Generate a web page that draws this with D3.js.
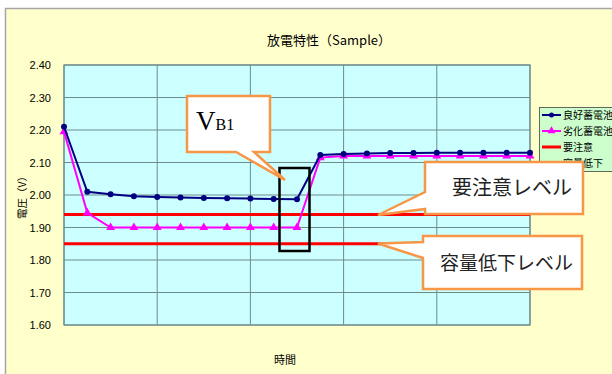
<!DOCTYPE html>
<html>
<head>
<meta charset="utf-8">
<script src="https://cdn.jsdelivr.net/npm/d3@7"></script>
<style>
  html, body { margin: 0; padding: 0; background: #ffffff; }
  svg { display: block; }
</style>
</head>
<body>
<svg id="chart" width="612" height="374"></svg>
<script>
// Discharge characteristics: cell voltage over time, good vs. degraded battery
const timeSteps = d3.range(21);
const goodCell = [2.21, 2.01, 2.002, 1.996, 1.994, 1.992, 1.991, 1.990, 1.989, 1.988, 1.987,
                  2.123, 2.126, 2.128, 2.129, 2.129, 2.130, 2.130, 2.130, 2.130, 2.130];
const degradedCell = [2.195, 1.945, 1.90, 1.90, 1.90, 1.90, 1.90, 1.90, 1.90, 1.90, 1.90,
                      2.115, 2.12, 2.12, 2.12, 2.12, 2.12, 2.12, 2.12, 2.12, 2.12];
const cautionLevel = 1.94;
const lowCapacityLevel = 1.85;
const yTicks = [1.6, 1.7, 1.8, 1.9, 2.0, 2.1, 2.2, 2.3, 2.4];
const seriesNames = ["良好蓄電池", "劣化蓄電池", "要注意", "容量低下"];

const svg = d3.select("#chart");
const sans = "'Noto Sans CJK JP', 'Noto Sans', sans-serif";
const narrow = "'Liberation Sans Narrow', 'Arial Narrow', 'Liberation Sans', sans-serif";

// chart area
svg.append("rect").attr("x", 5.5).attr("y", 8.5).attr("width", 620).attr("height", 380)
  .attr("fill", "#ffffcc").attr("stroke", "#a6a6a6").attr("stroke-width", 1.5);

const plot = { left: 64, right: 530, top: 65, bottom: 325 };
const x = d3.scalePoint().domain(timeSteps).range([plot.left, plot.right]);
const y = d3.scaleLinear().domain([1.6, 2.4]).range([plot.bottom, plot.top]);

svg.append("rect").attr("x", plot.left).attr("y", plot.top)
  .attr("width", plot.right - plot.left).attr("height", plot.bottom - plot.top)
  .attr("fill", "#ccffff");

// gridlines
svg.append("g").selectAll("line").data(yTicks).join("line")
  .attr("x1", plot.left).attr("x2", plot.right)
  .attr("y1", d => y(d)).attr("y2", d => y(d))
  .attr("stroke", "#6e8c8c").attr("stroke-width", 1);
svg.append("g").selectAll("line").data(timeSteps.filter(d => d % 4 === 0)).join("line")
  .attr("x1", d => x(d)).attr("x2", d => x(d))
  .attr("y1", plot.top).attr("y2", plot.bottom)
  .attr("stroke", "#6e8c8c").attr("stroke-width", 1);
svg.append("rect").attr("x", plot.left).attr("y", plot.top)
  .attr("width", plot.right - plot.left).attr("height", plot.bottom - plot.top)
  .attr("fill", "none").attr("stroke", "#6e8c8c").attr("stroke-width", 1.2);

// y axis labels
const yAxis = svg.append("g").attr("transform", `translate(${plot.left},0)`)
  .call(d3.axisLeft(y).tickValues(yTicks).tickFormat(d3.format(".2f")).tickSize(0).tickPadding(13));
yAxis.select(".domain").remove();
yAxis.selectAll("text").attr("font-family", narrow).attr("font-size", 11).attr("fill", "#000");

// titles
svg.append("text").attr("x", 329).attr("y", 45).attr("text-anchor", "middle")
  .attr("font-family", sans).attr("font-size", 13).attr("fill", "#000").text("放電特性（Sample）");
svg.append("text").attr("transform", "translate(26,195) rotate(-90)").attr("text-anchor", "middle")
  .attr("font-family", sans).attr("font-size", 10.5).attr("fill", "#000").text("電圧（V）");
svg.append("text").attr("x", 285).attr("y", 364).attr("text-anchor", "middle")
  .attr("font-family", sans).attr("font-size", 11).attr("fill", "#000").text("時間");

// threshold levels
[cautionLevel, lowCapacityLevel].forEach(v => {
  svg.append("line").attr("x1", plot.left).attr("x2", plot.right)
    .attr("y1", y(v)).attr("y2", y(v)).attr("stroke", "#ff0000").attr("stroke-width", 3);
});

const line = d3.line().x((d, i) => x(i)).y(d => y(d));

// degraded cell
svg.append("path").datum(degradedCell).attr("d", line)
  .attr("fill", "none").attr("stroke", "#ff00ff").attr("stroke-width", 2);
svg.append("g").selectAll("path").data(degradedCell).join("path")
  .attr("transform", (d, i) => `translate(${x(i)},${y(d)})`)
  .attr("d", d3.symbol(d3.symbolTriangle, 34)).attr("fill", "#ff00ff");

// good cell
svg.append("path").datum(goodCell).attr("d", line)
  .attr("fill", "none").attr("stroke", "#000080").attr("stroke-width", 2);
svg.append("g").selectAll("circle").data(goodCell).join("circle")
  .attr("cx", (d, i) => x(i)).attr("cy", d => y(d)).attr("r", 3).attr("fill", "#000080");

// VB1 measurement window
svg.append("rect").attr("x", 279.5).attr("y", 168).attr("width", 30).attr("height", 83)
  .attr("fill", "none").attr("stroke", "#000").attr("stroke-width", 2.5);

// legend
const lg = svg.append("g");
lg.append("rect").attr("x", 539.5).attr("y", 107.5).attr("width", 90).attr("height", 64)
  .attr("fill", "#ccffcc").attr("stroke", "#444").attr("stroke-width", 0.8);
const legendColors = ["#000080", "#ff00ff", "#ff0000", "#ff0000"];
seriesNames.forEach((name, i) => {
  const cy = 115 + i * 16;
  lg.append("line").attr("x1", 542).attr("x2", 561).attr("y1", cy).attr("y2", cy)
    .attr("stroke", legendColors[i]).attr("stroke-width", i < 2 ? 2 : 3);
  if (i === 0) lg.append("circle").attr("cx", 551.5).attr("cy", cy).attr("r", 2.5).attr("fill", legendColors[i]);
  if (i === 1) lg.append("path").attr("transform", `translate(551.5,${cy})`)
    .attr("d", d3.symbol(d3.symbolTriangle, 28)).attr("fill", legendColors[i]);
  lg.append("text").attr("x", 563).attr("y", cy + 4).attr("font-family", sans)
    .attr("font-size", 10).attr("fill", "#000").text(name);
});

// callouts
const calloutStroke = "#f79646";
function callout(points, label, tx, ty, size) {
  svg.append("path").attr("d", "M" + points.map(p => p.join(",")).join("L") + "Z")
    .attr("fill", "#ffffff").attr("stroke", calloutStroke).attr("stroke-width", 2.5)
    .attr("stroke-linejoin", "miter");
}
// VB1
callout([[187, 96], [270, 96], [270, 152], [254, 152], [285, 180], [236, 152], [187, 152]]);
const vb = svg.append("text").attr("x", 196).attr("y", 130)
  .attr("font-family", "'Liberation Serif', 'DejaVu Serif', serif").attr("fill", "#000");
vb.append("tspan").attr("font-size", 27).text("V");
vb.append("tspan").attr("font-size", 16).text("B1");

// caution level
callout([[425, 162], [583, 162], [583, 214], [425, 214], [425, 209], [378, 215], [425, 192]]);
svg.append("text").attr("x", 452).attr("y", 195).attr("font-family", sans)
  .attr("font-size", 20).attr("fill", "#222").text("要注意レベル");

// low capacity level
callout([[423, 236], [582, 236], [582, 289], [423, 289], [423, 258], [378, 243.5], [423, 242]]);
svg.append("text").attr("x", 440).attr("y", 270).attr("font-family", sans)
  .attr("font-size", 19).attr("fill", "#222").text("容量低下レベル");
</script>
</body>
</html>
